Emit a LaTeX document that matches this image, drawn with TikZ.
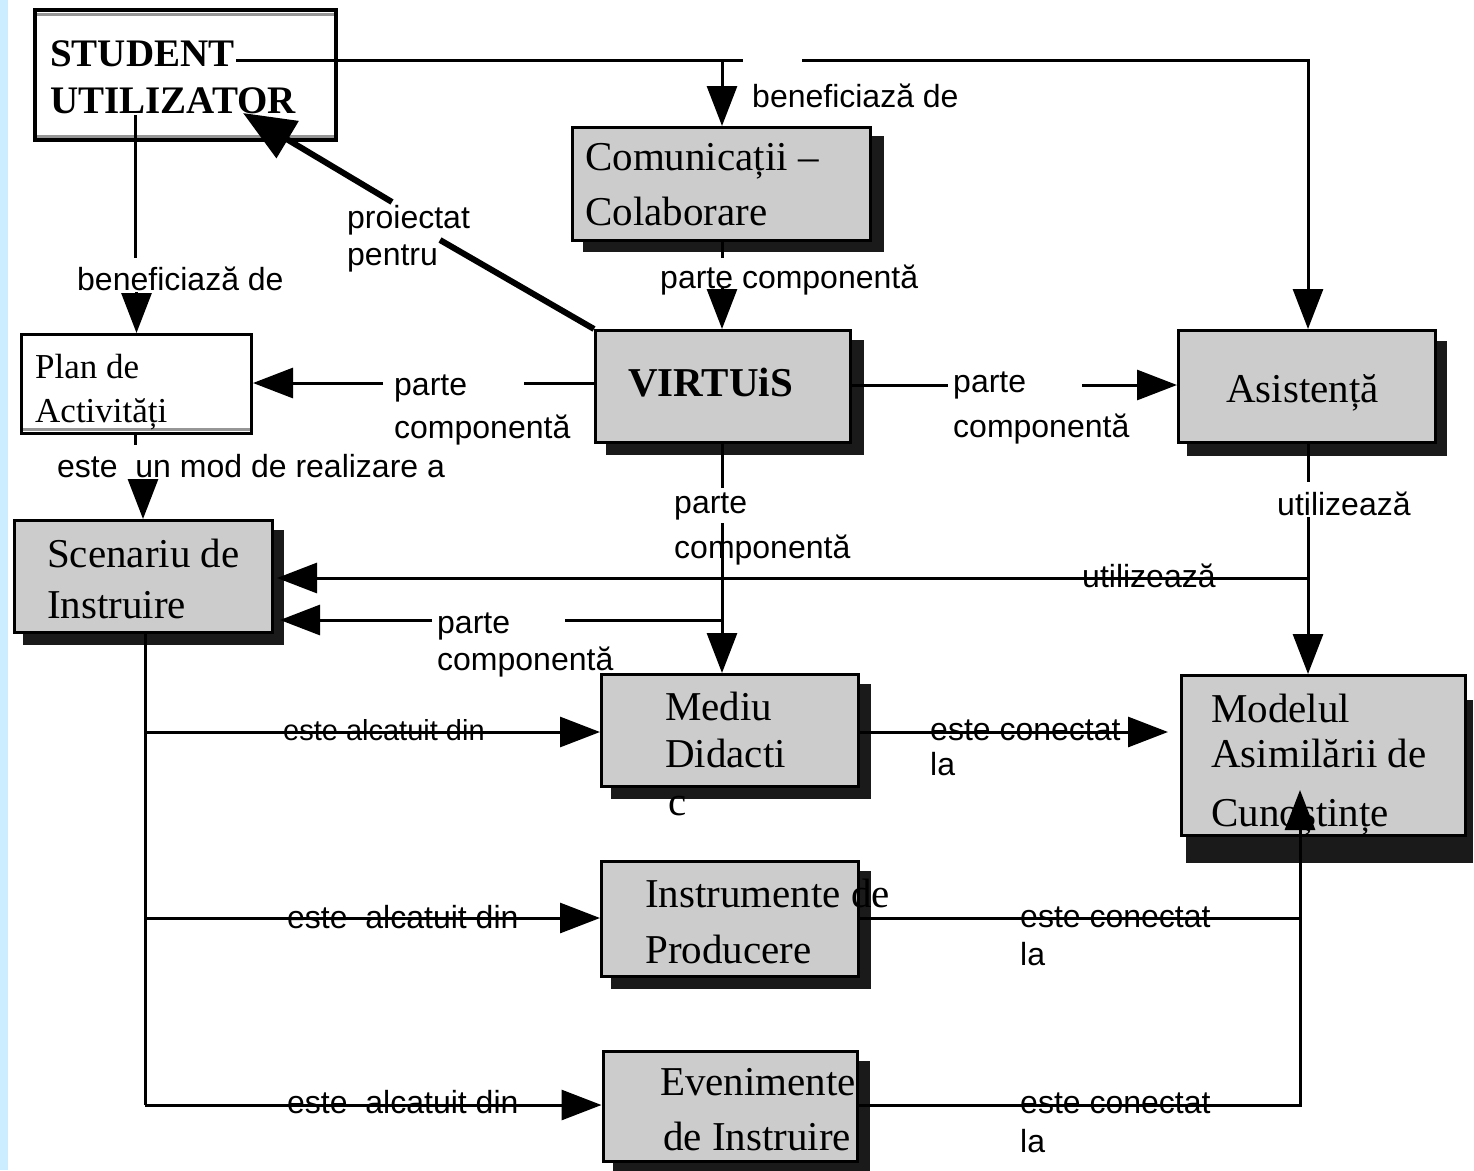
\documentclass[tikz,border=0pt]{standalone}
\usepackage{fontspec}
\setmainfont{Liberation Serif}
\setsansfont{Liberation Sans}
\usetikzlibrary{arrows.meta,shadows}
\definecolor{boxgray}{RGB}{204,204,204}
\definecolor{shadowc}{RGB}{26,26,26}
\definecolor{stripblue}{RGB}{204,236,255}
\definecolor{innergray}{RGB}{150,150,150}
\tikzset{
  gbox/.style={draw=black, line width=3pt, fill=boxgray, inner sep=0pt},
  wbox/.style={draw=black, line width=3pt, fill=white, inner sep=0pt},
  sh/.style 2 args={general shadow={fill=shadowc, draw=shadowc, shadow xshift=#1pt, shadow yshift=-#2pt}},
  btxt/.style={font=\fontsize{41}{41}\selectfont, inner sep=0pt, anchor=base west},
  ptxt/.style={font=\fontsize{35}{35}\selectfont, inner sep=0pt, anchor=base west},
  bbold/.style={font=\bfseries\fontsize{39}{39}\selectfont, inner sep=0pt, anchor=base west},
  lbl/.style={font=\sffamily\fontsize{32}{32}\selectfont, inner sep=0pt, anchor=base west},
  lbls/.style={font=\sffamily\fontsize{29}{29}\selectfont, inner sep=0pt, anchor=base west},
  conn/.style={line width=3pt},
  arr/.style={line width=3pt, -{Triangle[length=40pt,width=30pt]}},
  thickarr/.style={line width=6pt, -{Triangle[length=52pt,width=42pt]}},
}
\begin{document}
\begin{tikzpicture}[x=1pt,y=-1pt]
\useasboundingbox (0,0) rectangle (1474,1170);
\fill[white] (0,0) rectangle (1474,1170);
\fill[stripblue] (0,0) rectangle (8,1170);

% ---------- boxes ----------
\node[wbox, line width=4pt, minimum width=301pt, minimum height=130pt] (student) at (185.5,75) {};
\draw[innergray, line width=3pt] (37,14) -- (334,14);
\draw[innergray, line width=3pt] (37,136) -- (334,136);

\node[gbox, sh={12}{10}, minimum width=298pt, minimum height=113pt] (comm) at (721.5,184) {};
\node[gbox, sh={12}{11}, minimum width=255pt, minimum height=112pt] (virt) at (723,386.5) {};
\node[gbox, sh={10}{12}, minimum width=257pt, minimum height=112pt] (asis) at (1307,386.5) {};

\node[wbox, minimum width=230pt, minimum height=99pt] (plan) at (136.5,384) {};
\draw[innergray, line width=3pt] (23,429) -- (250,429);

\node[gbox, sh={10}{11}, minimum width=258pt, minimum height=112pt] (scen) at (143.5,576.5) {};
\node[gbox, sh={11}{11}, minimum width=257pt, minimum height=112pt] (mediu) at (730,730.5) {};
\node[gbox, sh={6}{26}, minimum width=284pt, minimum height=160pt] (model) at (1323.5,755.5) {};
\node[gbox, sh={11}{11}, minimum width=257pt, minimum height=115pt] (instr) at (730,919) {};
\node[gbox, sh={11}{11}, minimum width=254pt, minimum height=110pt] (even) at (730,1106.5) {};

% ---------- box texts ----------
\node[bbold] (tSt1) at (50,66) {STUDENT};
\node[bbold] (tSt2) at (50,113) {UTILIZATOR};
\node[btxt] (tCo1) at (585,170) {Comunicații –};
\node[btxt] (tCo2) at (585,225) {Colaborare};
\node[bbold, font=\bfseries\fontsize{41}{41}\selectfont] (tVi) at (628,396) {VIRTUiS};
\node[btxt] (tAs) at (1226,402) {Asistență};
\node[ptxt] (tPl1) at (35,378) {Plan de};
\node[ptxt] (tPl2) at (35,422) {Activități};
\node[btxt] (tSc1) at (47,567) {Scenariu de};
\node[btxt] (tSc2) at (47,618) {Instruire};
\node[btxt] (tMe1) at (665,720) {Mediu};
\node[btxt] (tMe2) at (665,767) {Didacti};
\node[btxt] (tMe3) at (668,815) {c};
\node[btxt] (tMo1) at (1211,722) {Modelul};
\node[btxt] (tMo2) at (1211,767) {Asimilării de};
\node[btxt] (tMo3) at (1211,826) {Cunoștințe};
\node[btxt] (tIn1) at (645,907) {Instrumente de};
\node[btxt] (tIn2) at (645,963) {Producere};
\node[btxt] (tEv1) at (660,1095) {Evenimente};
\node[btxt] (tEv2) at (663,1150) {de Instruire};

% ---------- connectors ----------
% student -> comm, asis
\coordinate (stR) at (236,60);
\coordinate (g1a) at (743,60);
\coordinate (g1b) at (802,60);
\coordinate (jA) at (1308,60);
\coordinate (jC) at (722,60);
\draw[conn] (stR) -- (g1a);
\draw[arr] (g1b) -- (jA) -- (asis.north -| jA);
\draw[arr] (jC) -- (comm.north -| jC);

% student -> plan
\coordinate (sp1) at (135,115);
\coordinate (sp2) at (135,258);
\coordinate (sp3) at (136.5,292);
\draw[conn] (sp1) -- (sp2);
\draw[arr] (sp3) -- (plan.north);

% comm -> virt
\coordinate (cv1) at (722,258);
\coordinate (cv2) at (722,288);
\draw[conn] (comm.south -| cv1) -- (cv1);
\draw[arr] (cv2) -- (virt.north -| cv2);

% virt -> student (proiectat pentru)
\coordinate (vs1) at (440,240);
\coordinate (vs2) at (392,202);
\coordinate (stTip) at (243,113);
\draw[line width=6pt] (virt.north west) -- (vs1);
\draw[thickarr] (vs2) -- (stTip);

% virt -> plan
\coordinate (vp1) at (524,383);
\coordinate (vp2) at (383,383);
\draw[conn] (virt.west |- vp1) -- (vp1);
\draw[arr] (vp2) -- (plan.east |- vp2);

% virt -> asis
\coordinate (va1) at (948,385);
\coordinate (va2) at (1082,385);
\draw[conn] (virt.east |- va1) -- (va1);
\draw[arr] (va2) -- (asis.west |- va2);

% virt -> mediu
\coordinate (vm1) at (722,488);
\coordinate (vm2) at (722,523);
\draw[conn] (virt.south -| vm1) -- (vm1);
\draw[arr] (vm2) -- (mediu.north -| vm2);

% virt -> scen (parte componenta)
\coordinate (vsc1) at (722,620);
\coordinate (vsc2) at (565,620);
\coordinate (vsc3) at (432,620);
\draw[conn] (vsc1) -- (vsc2);
\draw[arr] (vsc3) -- ([xshift=6pt]scen.east |- vsc3);

% plan -> scen
\coordinate (ps1) at (135,445);
\coordinate (ps2) at (143,482);
\draw[conn] (plan.south -| ps1) -- (ps1);
\draw[arr] (ps2) -- (scen.north -| ps2);

% asis -> model, asis -> scen
\coordinate (am1) at (1308,482);
\coordinate (am2) at (1308,517);
\coordinate (am3) at (1308,578);
\draw[conn] (asis.south -| am1) -- (am1);
\draw[arr] (am2) -- (model.north -| am2);
\draw[arr] (am3) -- ([xshift=3pt]scen.east |- am3);

% mediu -> model
\coordinate (mm1) at (1000,732);
\draw[arr] (mediu.east |- mm1) -- ([xshift=-12pt]model.west |- mm1);

% instr, even -> model
\coordinate (im1) at (1300,918);
\coordinate (em1) at (1300,1105);
\coordinate (mtip) at (1300,790);
\draw[conn] (instr.east |- im1) -- (im1);
\draw[arr] (even.east |- em1) -- (em1) -- (mtip);

% scen -> mediu, instr, even
\coordinate (sc1) at (145,732);
\coordinate (sc2) at (145,918);
\coordinate (sc3) at (145,1105);
\draw[conn] (scen.south -| sc1) -- (sc3);
\draw[arr] (sc1) -- (mediu.west |- sc1);
\draw[arr] (sc2) -- (instr.west |- sc2);
\draw[arr] (sc3) -- (even.west |- sc3);

% ---------- labels ----------
\node[lbl] (lBen1) at (752,107) {beneficiază de};
\node[lbl] (lBen2) at (77,290) {beneficiază de};
\node[lbl] (lPro1) at (347,228) {proiectat};
\node[lbl] (lPro2) at (347,265) {pentru};
\node[lbl] (lPc1) at (660,288) {parte componentă};
\node[lbl] (lPc2a) at (394,395) {parte};
\node[lbl] (lPc2b) at (394,438) {componentă};
\node[lbl] (lPc3a) at (953,392) {parte};
\node[lbl] (lPc3b) at (953,437) {componentă};
\node[lbl] (lMod) at (57,477) {este~~un mod de realizare a};
\node[lbl] (lPc4a) at (674,513) {parte};
\node[lbl] (lPc4b) at (674,558) {componentă};
\node[lbl] (lUt1) at (1277,515) {utilizează};
\node[lbl] (lUt2) at (1082,587) {utilizează};
\node[lbl] (lPc5a) at (437,633) {parte};
\node[lbl] (lPc5b) at (437,670) {componentă};
\node[lbls] (lAl1) at (283,740) {este alcatuit din};
\node[lbl] (lAl2) at (287,928) {este~~alcatuit din};
\node[lbl] (lAl3) at (287,1113) {este~~alcatuit din};
\node[lbl] (lCo1a) at (930,740) {este conectat};
\node[lbl] (lCo1b) at (930,775) {la};
\node[lbl] (lCo2a) at (1020,927) {este conectat};
\node[lbl] (lCo2b) at (1020,965) {la};
\node[lbl] (lCo3a) at (1020,1113) {este conectat};
\node[lbl] (lCo3b) at (1020,1152) {la};
\end{tikzpicture}
\end{document}
